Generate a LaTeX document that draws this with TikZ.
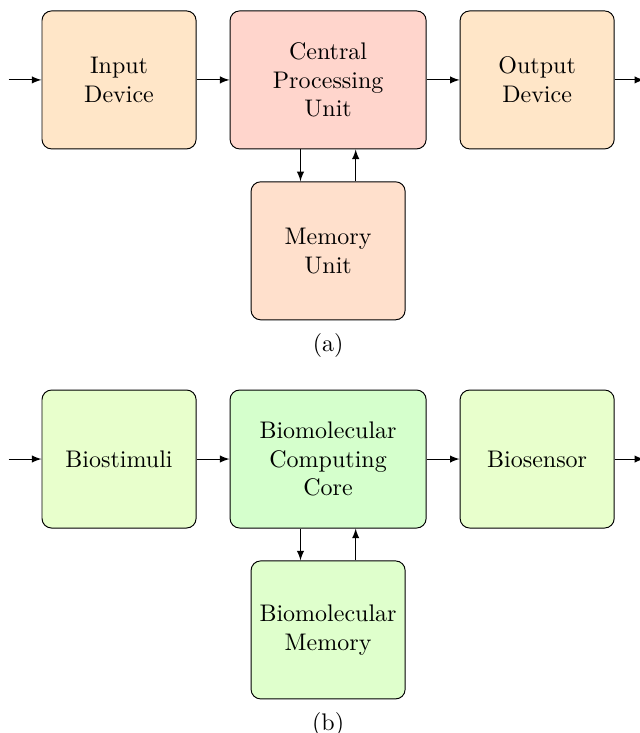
\documentclass[tikz,border=0pt]{standalone}
\usetikzlibrary{positioning}

\definecolor{ioorange}{RGB}{255,230,200}
\definecolor{cpured}{RGB}{255,213,204}
\definecolor{memorange}{RGB}{255,224,204}
\definecolor{iolime}{RGB}{232,255,204}
\definecolor{coregreen}{RGB}{213,255,204}
\definecolor{memgreen}{RGB}{223,255,204}

\begin{document}
\begin{tikzpicture}[
        block/.style={draw, rounded corners, align=center, minimum width=64.2pt, minimum height=57.5pt, inner sep=2pt},
        wide/.style={block, minimum width=81.7pt},
        arr/.style={-latex}
    ]
        \useasboundingbox (0,0) rectangle (266.25pt,-305.4pt);

        % (a) von Neumann
        \node[wide, fill=cpured] (cpu) at (136.7pt,-33.3pt) {Central\\Processing\\Unit};
        \node[block, fill=ioorange, left=13.75pt of cpu] (input) {Input\\Device};
        \node[block, fill=ioorange, right=13.75pt of cpu] (output) {Output\\Device};
        \node[block, fill=memorange, below=13.3pt of cpu] (mem) {Memory\\Unit};
        \node[below=2pt of mem] (capa) {(a)};
        \coordinate[left=13.75pt of input] (ina);
        \coordinate[right=12.3pt of output] (outa);

        \draw[arr] (ina) -- (input);
        \draw[arr] (input) -- (cpu);
        \draw[arr] (cpu) -- (output);
        \draw[arr] (output) -- (outa);
        \draw[arr] ([xshift=-11.5pt]cpu.south) -- ([xshift=-11.5pt]cpu.south |- mem.north);
        \draw[arr] ([xshift=11.5pt]mem.north) -- ([xshift=11.5pt]mem.north |- cpu.south);

        % (b) biomolecular
        \node[wide, fill=coregreen] (core) at (136.7pt,-191.25pt) {Biomolecular\\Computing\\Core};
        \node[block, fill=iolime, left=13.75pt of core] (stim) {Biostimuli};
        \node[block, fill=iolime, right=13.75pt of core] (sensor) {Biosensor};
        \node[block, fill=memgreen, below=13.3pt of core] (biomem) {Biomolecular\\Memory};
        \node[below=2pt of biomem] (capb) {(b)};
        \coordinate[left=13.75pt of stim] (inb);
        \coordinate[right=12.3pt of sensor] (outb);

        \draw[arr] (inb) -- (stim);
        \draw[arr] (stim) -- (core);
        \draw[arr] (core) -- (sensor);
        \draw[arr] (sensor) -- (outb);
        \draw[arr] ([xshift=-11.5pt]core.south) -- ([xshift=-11.5pt]core.south |- biomem.north);
        \draw[arr] ([xshift=11.5pt]biomem.north) -- ([xshift=11.5pt]biomem.north |- core.south);

    \end{tikzpicture}
\end{document}
